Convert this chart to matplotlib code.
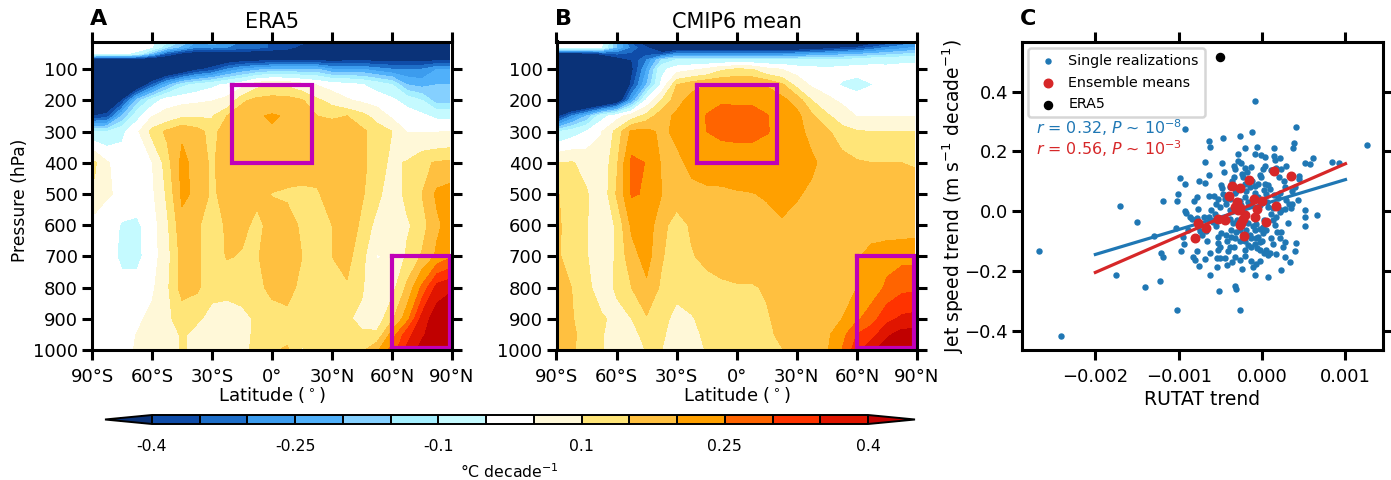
import numpy as np
import matplotlib
matplotlib.use('Agg')
import matplotlib.pyplot as plt

# grid of the two cross sections
lat = [-88.75, -82.5, -75, -67.5, -60, -52.5, -45, -37.5, -30, -22.5, -15, -7.5, 0,
       7.5, 15, 22.5, 30, 37.5, 45, 52.5, 60, 67.5, 75, 82.5, 88.75]
plev = [10, 30, 50, 70, 100, 150, 200, 250, 300, 400, 500, 600, 700, 800, 900, 950, 1000]

# ERA5 trends, one row per pressure level
era5 = [
    [0, 0, 0, 0, -.02, -.08, -.15, -.25, -.2, -.25, -.3, -.32, -.36, -.37, -.38, -.45, -.6, -.6, -.6, -.6, -.6, -.6, -.6, -.6, -.6],
    [.02, .02, .02, 0, -.03, -.15, -.22, -.3, -.28, -.3, -.32, -.33, -.36, -.38, -.42, -.5, -.6, -.6, -.6, -.6, -.6, -.6, -.6, -.6, -.6],
    [0, -.02, -.02, -.05, -.2, -.35, -.42, -.45, -.45, -.45, -.45, -.45, -.45, -.45, -.45, -.45, -.45, -.45, -.45, -.45, -.45, -.45, -.45, -.45, -.45],
    [-.5, -.5, -.5, -.5, -.5, -.5, -.5, -.5, -.48, -.46, -.44, -.43, -.42, -.42, -.42, -.42, -.43, -.42, -.42, -.42, -.42, -.42, -.42, -.42, -.42],
    [-.7, -.7, -.7, -.7, -.6, -.55, -.5, -.42, -.38, -.3, -.25, -.22, -.2, -.2, -.2, -.2, -.25, -.25, -.25, -.28, -.3, -.3, -.3, -.25, -.25],
    [-.6, -.6, -.6, -.5, -.35, -.22, -.12, -.08, -.05, -.02, .01, .08, .1, .09, .06, .03, 0, -.01, -.03, -.06, -.1, -.2, -.22, -.2, -.2],
    [-.5, -.5, -.4, -.18, -.07, 0, .01, .02, .03, .05, .14, .165, .17, .17, .155, .11, .08, .04, .02, 0, -.02, -.06, -.1, -.18, -.18],
    [-.4, -.38, -.2, -.06, .03, .06, .09, .09, .095, .15, .18, .195, .205, .195, .18, .15, .14, .15, .12, .075, .02, 0, -.02, -.05, -.05],
    [-.1, -.1, -.05, .02, .12, .16, .19, .17, .13, .18, .195, .195, .195, .195, .19, .18, .185, .2, .16, .13, .1, .03, .03, .03, .035],
    [.11, .04, 0, 0, .03, .13, .215, .18, .14, .19, .19, .19, .195, .19, .175, .17, .18, .19, .165, .12, .09, .105, .14, .155, .16],
    [.09, .04, .02, 0, .02, .11, .21, .19, .14, .17, .165, .165, .148, .14, .14, .145, .17, .18, .155, .12, .055, .12, .15, .21, .22],
    [0, 0, -.04, -.045, 0, .09, .185, .16, .115, .16, .165, .135, .17, .175, .14, .14, .15, .18, .14, .08, .05, .09, .13, .19, .22],
    [0, 0, -.05, -.05, 0, .08, .17, .16, .115, .155, .145, .145, .18, .19, .15, .13, .15, .165, .12, .03, .04, .11, .155, .21, .24],
    [0, 0, -.01, -.01, .02, .09, .17, .16, .11, .11, .115, .135, .165, .17, .135, .12, .13, .145, .105, .06, .08, .16, .26, .37, .39],
    [0, 0, .01, .02, .05, .09, .12, .105, .09, .085, .09, .105, .125, .135, .12, .115, .115, .105, .09, .07, .14, .23, .37, .43, .44],
    [0, 0, .01, .035, .05, .08, .105, .09, .07, .07, .085, .11, .12, .125, .115, .115, .115, .11, .105, .11, .22, .33, .39, .44, .47],
    [0, 0, .01, .04, .06, .08, .105, .09, .07, .07, .08, .12, .14, .16, .095, .12, .13, .13, .14, .19, .27, .36, .42, .48, .5],
]

# CMIP6 mean trends
cmip6 = [
    [.05, .03, 0, -.02, -.2, -.38, -.5, -.6, -.6, -.6, -.6, -.6, -.6, -.6, -.6, -.6, -.6, -.6, -.6, -.55, -.5, -.46, -.42, -.35, -.3],
    [0, 0, -.01, -.03, -.2, -.32, -.4, -.5, -.5, -.5, -.5, -.5, -.5, -.5, -.5, -.5, -.5, -.48, -.45, -.42, -.4, -.35, -.3, -.28, -.25],
    [-.45, -.45, -.43, -.38, -.34, -.36, -.37, -.38, -.3, -.3, -.3, -.3, -.3, -.3, -.3, -.3, -.28, -.26, -.25, -.23, -.22, -.2, -.18, -.16, -.15],
    [-.6, -.6, -.6, -.55, -.45, -.4, -.3, -.15, -.1, -.1, -.1, -.1, -.1, -.1, -.1, -.1, -.1, -.1, -.1, -.09, -.08, -.06, -.05, -.05, -.05],
    [-.7, -.7, -.7, -.65, -.55, -.42, -.25, -.05, 0, .02, .04, .09, .105, .1, .05, .03, 0, -.01, -.02, -.01, -.005, -.01, -.02, -.01, -.01],
    [-.8, -.8, -.75, -.7, -.6, -.38, -.2, -.02, .15, .18, .2, .2, .2, .2, .195, .16, .08, .02, 0, -.04, -.06, -.035, 0, 0, 0],
    [-.7, -.7, -.65, -.6, -.5, -.25, -.02, .1, .18, .22, .235, .245, .245, .245, .235, .215, .18, .1, .05, .02, 0, 0, 0, 0, 0],
    [-.42, -.3, -.2, -.06, 0, .07, .12, .18, .21, .23, .252, .265, .26, .26, .252, .23, .215, .16, .11, .07, .03, .03, .03, .03, .03],
    [-.1, -.07, -.03, .03, .12, .21, .215, .19, .21, .23, .25, .258, .258, .258, .252, .24, .22, .18, .16, .12, .105, .1, .1, .1, .1],
    [.1, .105, .08, .06, .14, .262, .248, .195, .19, .21, .225, .23, .235, .235, .23, .24, .235, .21, .18, .17, .155, .15, .15, .15, .148],
    [.15, .12, .105, .06, .155, .255, .245, .2, .185, .19, .19, .19, .195, .198, .205, .215, .205, .19, .175, .17, .165, .16, .16, .16, .16],
    [.155, .125, .105, .05, .11, .21, .225, .17, .12, .16, .17, .175, .18, .18, .185, .195, .185, .175, .175, .17, .17, .17, .17, .17, .175],
    [.155, .12, .105, .05, .11, .18, .22, .155, .12, .145, .165, .175, .18, .18, .18, .18, .18, .18, .185, .19, .195, .22, .23, .235, .235],
    [.17, .15, .12, .06, .11, .15, .19, .14, .11, .13, .13, .14, .145, .145, .155, .17, .18, .18, .18, .19, .2, .22, .26, .285, .29],
    [.17, .155, .12, .11, .08, .1, .145, .11, .09, .095, .12, .13, .135, .135, .145, .165, .175, .18, .185, .2, .24, .28, .335, .36, .365],
    [.18, .16, .13, .105, .07, .08, .12, .11, .07, .08, .115, .125, .13, .13, .14, .16, .175, .18, .19, .23, .3, .33, .39, .42, .42],
    [.17, .16, .12, .105, .07, .055, .105, .1, .07, .07, .105, .115, .12, .12, .13, .148, .16, .18, .195, .25, .33, .39, .43, .45, .45],
]

levels = [-.4, -.35, -.3, -.25, -.2, -.15, -.1, -.033, .033, .1, .15, .2, .25, .3, .35, .4]
colors = ['#0a3278', '#0f4ca8', '#1e6ec8', '#3c9cee', '#50b0fa', '#85d0ff', '#a5efff', '#c5faff', '#ffffff',
          '#fff8d8', '#ffe578', '#ffc040', '#ffa000', '#ff6400', '#ff3300', '#e01500', '#c00000']
cbar_ticks = [-.4, -.25, -.1, .1, .25, .4]
cbar_labels = ['-0.4', '-0.25', '-0.1', '0.1', '0.25', '0.4']

lat_ticks = [-90, -60, -30, 0, 30, 60, 90]
lat_labels = ['90°S', '60°S', '30°S', '0°', '30°N', '60°N', '90°N']
p_ticks = [100, 200, 300, 400, 500, 600, 700, 800, 900, 1000]

# boxes on the cross sections (lat west, lat east, p top, p bottom)
box_trop = [-20, 20, 150, 400]
box_arctic = [60, 88.75, 700, 992]

# scatter panel, x is in 1e-3 per decade
single_x = [-2.68, -2.41, -1.75, -1.40, -1.22, -1.71, -1.50, -1.02, -.52, -.32, -.31, -.26, 1.26, -.09, .41, -.12,
            -.26, -.47, -.64, -.62, -.92, .38, .37, -.06, -.21, .14, -.29, -.08, -.01, .03, .14, .16, .21, -.68, -.48,
            -.29, -.25, .61, .52, .58, .84, .92, -.98, -.92, -.76, -.64, -.68, -.46, -.34, -.32, -.20, -.13, .04, .01,
            .17, .23, .29, .44, .44, .40, -.49, -.48, -.47, -.34, -.23, -.01, .03, .07, -.09, -.15, -.19, .26, .27, .36,
            -1.01, -1.02, -1.19, -.82, -.78, -.64, -.58, -.53, -.55, -.51, -.77, -.93, -.91, -.87, -.84, -.61, -.57,
            -.78, -.39, -.43, .29, .32, .36, .43, .23, .27, .21, .11, .52, .52, .52, .66, .07, .13, .15, .01, .05, -.07,
            -.09, -.05, -.03, -.07, .23, .22, .11, .27, .25, .41, .40, .05, .09, .17, .07, .28, -.06, -.17, -.13, -.27,
            -.31, -.37, -.43, -.49, -.53, -.53, -.51, -.53, -.39, -.41, -.32, -.33, -.45, -.54, -.50, -.27, -.13, -.03,
            -.07, -.11, -.24, -.42, -.54, .23, -.08, .07, -.62, -.76, -.81, -.83, -.69, -.78, -.97, -.94, -.95, -1.03,
            -1.30, -1.21, -1.19, -.77, -.75, -.89, -.67, -.59, -.47, -.39, -.21, -.17, -.27, -.25, -.05, .05, -.13, -.27,
            -.31, -.39, -.15, -.19, -.23, -.21, -.37, .01,
            -.18, -.24, -.03, .11, .2, -.36, -.33, -.2, -.12, -.05, .02, .1, .14, .19, .22, -.44, -.38, -.09, -.02, .06,
            .13, .17, .02, -.03, -.11, -.17, -.3, -.35, -.55, -.64, -.7, -.42, -.34, -.27, -.2, -.13, -.09, 0, .13, .18,
            .31, .35, .02, -.02, -.2, -.36, .33, -.62, -.66, -.72]
single_y = [-.132, -.415, -.211, -.253, -.233, .017, -.035, -.329, -.267, -.248, -.261, -.33, .22, .37, .283, .266,
            .253, .246, .235, .215, .276, .227, .21, .216, .211, .21, .191, .191, .187, .181, .184, .17, .177, .164, .162,
            .167, .162, .177, .162, .158, .165, .163, .111, .092, .102, .122, .096, .13, .152, .14, .146, .148, .152, .141,
            .146, .14, .152, .119, .108, .08, .089, .077, .058, .113, .113, .113, .091, .089, .086, .08, .069, .1, .08, .069,
            .058, .033, .034, .034, .047, .051, .051, .042, .025, .014, .008, .001, -.005, -.019, -.026, .005, -.008,
            -.021, .003, .025, .038, .025, .025, .038, .003, .009, -.002, -.008, .003, -.019, -.05, -.013, .014, -.03, -.046, -.052, -.063, -.041,
            -.063, -.085, -.101, -.09, -.068, -.09, -.09, -.101, -.118, -.107, -.131, -.129, -.14, -.142, -.145, -.151, -.121, -.112, -.118, -.063,
            -.068, -.063, -.079, -.074, -.085, -.107, -.118, -.129, -.12, -.134, -.09, -.151, -.156, -.156, -.157, -.162, -.167, -.167,
            -.176, -.186, -.191, -.178, -.187, -.197, -.213, -.219, -.213, -.181, -.162, -.153, -.16, -.134, -.131, -.109, -.087, -.057,
            -.081, -.14, -.153, -.052, -.066, -.063, -.065, -.035, -.03, -.024, .047, .031, .036, .02, .047, .058, .025, .08,
            .069, .08, -.079, -.063, -.096, -.129, -.085, -.074,
            .13, .126, .122, .137, .115, .1, .06, .09, .1, .09, .07, .075, .055, .045, .06, .04, .04, .06, .02, .03,
            .01, -.02, -.03, -.06, -.05, -.04, -.03, -.04, -.05, -.02, -.02, -.1, -.12, -.1, -.1, -.09, -.11, -.1, -.11, -.07,
            -.04, .01, -.14, -.13, -.15, -.17, -.17, -.14, -.1, -.08]
ensemble_x = [-.81, -.67, -.45, -.40, -.36, -.26, -.16, .14, .35, .17, .05, -.22, -.09, -.10, 0, -.06, -.30, -.32, -.27,
              -.29, -.21, -.23, -.25, -.26, -.53, -.77]
ensemble_y = [-.088, -.057, -.03, .051, .085, .079, .106, .133, .118, .019, -.035, -.083, -.019, .04, .036, .007, .031,
              .014, .011, .003, -.013, -.024, -.039, -.047, -.026, -.039]
era5_x = [-.50]
era5_y = [.516]
fit_x = [-2.0, 1.0]
fit_single = [-.144, .106]
fit_ensemble = [-.204, .159]

W, H = 1391, 480
plt.rcParams['axes.linewidth'] = 2.2
plt.rcParams['font.size'] = 13

fig = plt.figure(figsize=(W / 100, H / 100), dpi=100)

def make_axes(x0, x1, y0, y1):
    # pixel box, measured from top left of the picture
    return fig.add_axes([x0 / W, 1 - y1 / H, (x1 - x0) / W, (y1 - y0) / H])

def style_ticks(ax):
    ax.tick_params(which='major', length=7, width=2.2, direction='out', top=True, right=True, labelsize=13, pad=3)
    ax.tick_params(axis='x', pad=6)

def section(ax, z, title, letter):
    cf = ax.contourf(lat, plev, np.array(z), levels=levels, colors=colors, extend='both')
    for b in (box_trop, box_arctic):
        ax.plot([b[0], b[1], b[1], b[0], b[0]], [b[2], b[2], b[3], b[3], b[2]], color='#c000b8', lw=3,
                solid_joinstyle='miter')
    ax.set_xlim(-90, 90)
    ax.set_ylim(1000, 11.5)
    ax.set_xticks(lat_ticks)
    ax.set_xticklabels(lat_labels)
    ax.set_yticks(p_ticks)
    ax.set_xlabel('Latitude ($^\\circ$)', fontsize=13, labelpad=-0.5)
    style_ticks(ax)
    ax.set_title(title, fontsize=15, pad=10)
    ax.text(-0.005, 1.04, letter, transform=ax.transAxes, fontsize=16, fontweight='bold', ha='left', va='bottom')
    return cf

ax1 = make_axes(92, 452, 41.5, 350)
cf = section(ax1, era5, 'ERA5', 'A')
ax1.set_ylabel('Pressure (hPa)', fontsize=12.3, labelpad=3, y=0.485)

ax2 = make_axes(556.5, 917, 41.5, 350)
section(ax2, cmip6, 'CMIP6 mean', 'B')

# colorbar under the two sections
cax = make_axes(105, 915, 415, 424)
cb = fig.colorbar(cf, cax=cax, orientation='horizontal', drawedges=True, extendfrac=0.0656, spacing='uniform')
cb.set_ticks(cbar_ticks)
cb.set_ticklabels(cbar_labels)
cb.ax.tick_params(length=0, pad=11, labelsize=11.3)
cb.ax.minorticks_off()
cb.outline.set_linewidth(1.4)
cb.dividers.set_linewidth(1.4)
fig.text(509 / W, 1 - 472 / H, '°C decade$^{-1}$', ha='center', va='center', fontsize=11.3)

# scatter
ax3 = make_axes(1022, 1383, 41.5, 350)
ax3.scatter(np.array(single_x) / 1000, single_y, s=13, color='tab:blue', label='Single realizations', zorder=2)
ax3.plot(np.array(fit_x) / 1000, fit_single, color='tab:blue', lw=2.3, zorder=3)
ax3.plot(np.array(fit_x) / 1000, fit_ensemble, color='tab:red', lw=2.3, zorder=3)
ax3.scatter(np.array(ensemble_x) / 1000, ensemble_y, s=38, color='tab:red', label='Ensemble means', zorder=4)
ax3.scatter(np.array(era5_x) / 1000, era5_y, s=34, color='black', label='ERA5', zorder=4)
ax3.set_xlim(-0.00288, 0.00145)
ax3.set_ylim(-0.463, 0.567)
ax3.set_xticks([-.002, -.001, 0, .001])
ax3.set_xticklabels(['\u22120.002', '\u22120.001', '0.000', '0.001'])
ax3.set_yticks([-.4, -.2, 0, .2, .4])
style_ticks(ax3)
ax3.set_xlabel('RUTAT trend', fontsize=13.5, labelpad=3)
ax3.set_ylabel('Jet speed trend (m s$^{-1}$ decade$^{-1}$)', fontsize=13.5, labelpad=-1)
leg = ax3.legend(loc='upper left', fontsize=10.3, borderaxespad=0.45, labelspacing=0.55, handletextpad=0.4,
                 framealpha=0.8, fancybox=True)
leg.get_frame().set_linewidth(1.8)
ax3.text(0.04, 0.722, '$r$ = 0.32, $P$ ~ 10$^{-8}$', transform=ax3.transAxes, color='tab:blue', fontsize=11.4, va='center')
ax3.text(0.04, 0.653, '$r$ = 0.56, $P$ ~ 10$^{-3}$', transform=ax3.transAxes, color='tab:red', fontsize=11.4, va='center')
ax3.text(-0.005, 1.04, 'C', transform=ax3.transAxes, fontsize=16, fontweight='bold', ha='left', va='bottom')

fig.savefig('out.png', dpi=100)
